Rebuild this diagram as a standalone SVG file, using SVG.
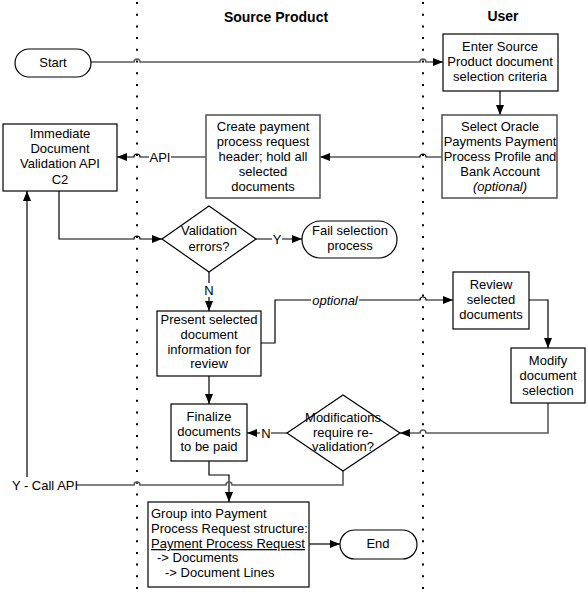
<svg xmlns="http://www.w3.org/2000/svg" width="588" height="598" viewBox="0 0 588 598">
<defs>
<marker id="ah" markerUnits="userSpaceOnUse" markerWidth="10" markerHeight="10" refX="10" refY="5" orient="auto">
<path d="M0,1 L10,5 L0,9 Z" fill="#000"/>
</marker>
<style>
text{font-family:"Liberation Sans",Arial,sans-serif;font-size:13px;fill:#000;text-anchor:middle}
.h{font-weight:bold;font-size:14px}
.box{fill:#fff;stroke:#000;stroke-width:1.2}
.gbox{fill:#fff;stroke:#5a5a5a;stroke-width:1.6}
.c{fill:none;stroke:#000;stroke-width:1.2}
.g{fill:none;stroke:#5a5a5a;stroke-width:1.6}
.a{marker-end:url(#ah)}
.lane{stroke:#000;stroke-width:2;stroke-dasharray:2 9.7}
.lb{fill:#fff}
.l{text-anchor:start}
</style>
</defs>
<rect width="588" height="598" fill="#fff"/>
<g id="lanes">
<line class="lane" x1="137" y1="2" x2="137" y2="598"/>
<line class="lane" x1="423" y1="2" x2="423" y2="598"/>
<text class="h" x="276" y="22">Source Product</text>
<text class="h" x="503" y="21">User</text>
</g>
<g id="connectors">
<path class="g a" d="M91 62 H134 A3 3 0 0 1 140 62 H420 A3 3 0 0 1 426 62 H443"/>
<path class="c a" d="M500 91 V115"/>
<path class="c a" d="M442 157 H426 A3 3 0 0 0 420 157 H320"/>
<path class="c a" d="M206 157 H140 A3 3 0 0 0 134 157 H117"/>
<path class="c a" d="M59 191 V239 H134 A3 3 0 0 1 140 239 H162"/>
<path class="c a" d="M256 239 H302"/>
<path class="c a" d="M209 272 V311"/>
<path class="c a" d="M261 343 H275 V300 H420 A3 3 0 0 1 426 300 H453"/>
<path class="c a" d="M529 300 H548 V348"/>
<path class="g a" d="M548 403 V433 H426 A3 3 0 0 0 420 433 H400"/>
<path class="c a" d="M287 433 H247"/>
<path class="c a" d="M209 376 V404"/>
<path class="c a" d="M209 461 V475 H229 V502"/>
<path class="g" d="M343 471 V485 H232 A3 3 0 0 0 226 485 H140 A3 3 0 0 0 134 485 H27"/>
<path class="c a" d="M27 477 V191"/>
<path class="c a" d="M309 544 H340"/>
<rect class="lb" x="149" y="150" width="22" height="14"/>
<text x="160" y="162">API</text>
<rect class="lb" x="272" y="232" width="10" height="14"/>
<text x="277" y="244">Y</text>
<rect class="lb" x="204" y="283" width="10" height="14"/>
<text x="209" y="295">N</text>
<rect class="lb" x="311" y="293" width="48" height="14"/>
<text x="335" y="305" font-style="italic">optional</text>
<rect class="lb" x="260" y="426" width="11" height="14"/>
<text x="266" y="438">N</text>
<rect class="lb" x="14" y="478" width="62" height="14"/>
<text x="45" y="490">Y - Call API</text>
</g>
<g id="start">
<rect class="box" x="15" y="49" width="76" height="28" rx="14"/>
<text x="53" y="67">Start</text>
</g>
<g id="enter">
<rect class="box" x="443" y="34" width="115" height="57"/>
<text x="500" y="51">Enter Source</text>
<text x="500" y="66">Product document</text>
<text x="500" y="81">selection criteria</text>
</g>
<g id="select">
<rect class="gbox" x="442" y="115" width="115" height="83"/>
<text x="500" y="131">Select Oracle</text>
<text x="500" y="146">Payments Payment</text>
<text x="500" y="161">Process Profile and</text>
<text x="500" y="176">Bank Account</text>
<text x="500" y="191" font-style="italic">(optional)</text>
</g>
<g id="create">
<rect class="gbox" x="206" y="115" width="114" height="83"/>
<text x="263" y="131">Create payment</text>
<text x="263" y="146">process request</text>
<text x="263" y="161">header; hold all</text>
<text x="263" y="176">selected</text>
<text x="263" y="191">documents</text>
</g>
<g id="immediate">
<rect class="box" x="3" y="124" width="114" height="67"/>
<text x="60" y="138">Immediate</text>
<text x="60" y="153">Document</text>
<text x="60" y="168">Validation API</text>
<text x="60" y="184">C2</text>
</g>
<g id="validation">
<polygon class="box" points="162,239 209,206 256,239 209,272"/>
<text x="209" y="235">Validation</text>
<text x="209" y="251">errors?</text>
</g>
<g id="fail">
<rect class="box" x="302" y="221" width="95" height="37" rx="18.5"/>
<text x="350" y="235">Fail selection</text>
<text x="350" y="250">process</text>
</g>
<g id="present">
<rect class="box" x="157" y="311" width="104" height="65"/>
<text x="209" y="324">Present selected</text>
<text x="209" y="339">document</text>
<text x="209" y="354">information for</text>
<text x="209" y="368">review</text>
</g>
<g id="review">
<rect class="box" x="453" y="272" width="76" height="57"/>
<text x="491" y="289">Review</text>
<text x="491" y="304">selected</text>
<text x="491" y="319">documents</text>
</g>
<g id="modify">
<rect class="box" x="511" y="348" width="74" height="55"/>
<text x="548" y="365">Modify</text>
<text x="548" y="380">document</text>
<text x="548" y="395">selection</text>
</g>
<g id="modifications">
<polygon class="box" points="287,433 343,395 400,433 343,471"/>
<text x="343" y="422">Modifications</text>
<text x="343" y="437">require re-</text>
<text x="343" y="451">validation?</text>
</g>
<g id="finalize">
<rect class="box" x="171" y="404" width="76" height="57"/>
<text x="209" y="421">Finalize</text>
<text x="209" y="436">documents</text>
<text x="209" y="451">to be paid</text>
</g>
<g id="group">
<rect class="box" x="148" y="502" width="161" height="85"/>
<text class="l" x="151" y="518">Group into Payment</text>
<text class="l" x="151" y="533">Process Request structure:</text>
<text class="l" x="151" y="548" text-decoration="underline">Payment Process Request</text>
<text class="l" x="157" y="562">-&gt; Documents</text>
<text class="l" x="165" y="577">-&gt; Document Lines</text>
</g>
<g id="end">
<rect class="box" x="340" y="530" width="77" height="29" rx="14.5"/>
<text x="378" y="548">End</text>
</g>
</svg>
